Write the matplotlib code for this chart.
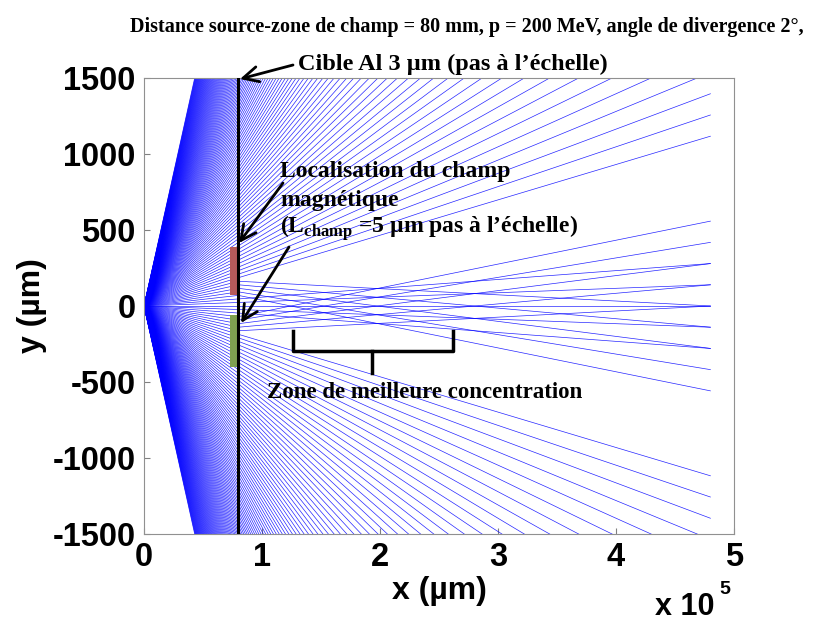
import numpy as np
import matplotlib
matplotlib.use("Agg")
import matplotlib.pyplot as plt
from matplotlib.patches import Rectangle, FancyArrowPatch

# ray-trace parameters (all lengths in µm)
divergence_deg = 2.0        # half-angle of the fan
rays_per_side = 120
target_x = 80000            # source -> field zone distance
end_x = 480000              # rays stop here
field_band = (55, 180)      # |y| at the target where the field acts
kick_mrad = 2.443           # deflection toward the axis

red_box_y = (72, 389)
green_box_y = (-402, -59)
box_x = (73000, 80000)

x_ticks = [0, 1e5, 2e5, 3e5, 4e5, 5e5]
x_tick_labels = ["0", "1", "2", "3", "4", "5"]
y_ticks = [-1500, -1000, -500, 0, 500, 1000, 1500]

# brace under the focus zone
brace_x = (126000, 193000, 262000)
brace_y = (-165, -297, -442)

W, H = 814, 623
SANS = "Liberation Sans"
SERIF = "Liberation Serif"
plt.rcParams["axes.unicode_minus"] = False
plt.rcParams["mathtext.fontset"] = "custom"
plt.rcParams["mathtext.rm"] = "Liberation Serif:bold"
plt.rcParams["mathtext.bf"] = "Liberation Serif:bold"


def fig_xy(px, py):
    return px / W, 1 - py / H


fig = plt.figure(figsize=(W / 100, H / 100), dpi=100)
ax = fig.add_axes([144 / W, 1 - 534 / H, 590 / W, 456 / H])

ang = np.deg2rad(divergence_deg) / rays_per_side
for k in range(-rays_per_side, rays_per_side + 1):
    s = np.tan(k * ang)
    y0 = target_x * s
    if field_band[0] <= abs(y0) <= field_band[1]:
        s2 = s - np.sign(y0) * kick_mrad * 1e-3
        xs = [0, target_x, end_x]
        ys = [0, y0, y0 + s2 * (end_x - target_x)]
    else:
        xs = [0, end_x]
        ys = [0, s * end_x]
    ax.plot(xs, ys, color=(0, 0, 1), lw=0.5, alpha=0.85, zorder=2)

ax.add_patch(Rectangle((box_x[0], red_box_y[0]), box_x[1] - box_x[0],
                       red_box_y[1] - red_box_y[0], color="#b65a5a", zorder=3, lw=0))
ax.add_patch(Rectangle((box_x[0], green_box_y[0]), box_x[1] - box_x[0],
                       green_box_y[1] - green_box_y[0], color="#7fa050", zorder=3, lw=0))
ax.plot([target_x, target_x], [-1500, 1500], color="black", lw=2.2, zorder=4)

# brace
ax.plot([brace_x[0], brace_x[0], brace_x[2], brace_x[2]],
        [brace_y[0], brace_y[1], brace_y[1], brace_y[0]], color="black", lw=2.5, zorder=5)
ax.plot([brace_x[1], brace_x[1]], [brace_y[1], brace_y[2]], color="black", lw=2.5, zorder=5)

ax.set_xlim(0, 5e5)
ax.set_ylim(-1500, 1500)
ax.set_xticks(x_ticks)
ax.set_xticklabels(x_tick_labels)
ax.set_yticks(y_ticks)
ax.tick_params(direction="in", length=4, color="#808080", width=0.8,
               labelsize=23.5, pad=6)
for lab in ax.get_xticklabels() + ax.get_yticklabels():
    lab.set_fontfamily(SANS)
    lab.set_fontweight("bold")
for sp in ax.spines.values():
    sp.set_color("#909090")
    sp.set_linewidth(0.8)

ax.set_xlabel("x (µm)", fontsize=23, fontweight="bold", family=SANS, labelpad=2)
ax.set_ylabel("y (µm)", fontsize=23, fontweight="bold", family=SANS, labelpad=4)

fig.text(*fig_xy(655, 607), "x 10", fontsize=22, fontweight="bold", family=SANS,
         va="center", ha="left")
fig.text(*fig_xy(719, 589), "5", fontsize=14, fontweight="bold", family=SANS,
         va="center", ha="left")

tkw = dict(fontweight="bold", family=SERIF, va="center", ha="left")
fig.text(*fig_xy(467, 27), "Distance source-zone de champ = 80 mm, p = 200 MeV, angle de divergence 2°,",
         fontsize=14.5, fontweight="bold", family=SERIF, va="center", ha="center")
fig.text(*fig_xy(298, 64), "Cible Al 3 µm (pas à l’échelle)", fontsize=17.5, **tkw)
fig.text(*fig_xy(280, 172), "Localisation du champ", fontsize=17, **tkw)
fig.text(*fig_xy(280, 200), "magnétique", fontsize=17, **tkw)
fig.text(*fig_xy(280, 228), r"(L$_{\rm champ}$ =5 µm pas à l’échelle)", fontsize=17, **tkw)
fig.text(*fig_xy(267, 392), "Zone de meilleure concentration", fontsize=16.5, **tkw)

for start, end in [((293, 65), (240, 79)), ((283, 183), (239, 243)), ((289, 247), (241, 323))]:
    fig.patches.append(FancyArrowPatch(
        fig_xy(*start), fig_xy(*end), transform=fig.transFigure, zorder=6,
        arrowstyle="->,head_length=0.5,head_width=0.25", mutation_scale=22,
        lw=2, color="black", shrinkA=0, shrinkB=0))

fig.savefig("out.png", dpi=100)
